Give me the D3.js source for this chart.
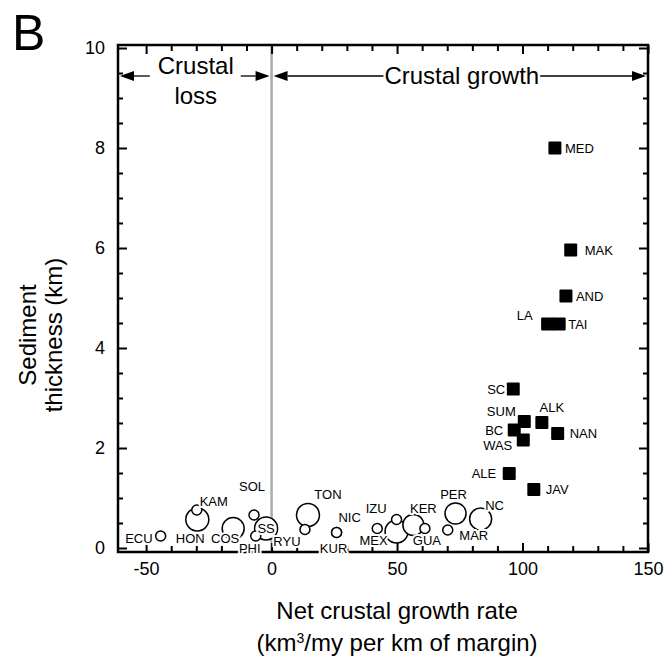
<!DOCTYPE html>
<html>
<head>
<meta charset="utf-8">
<script src="https://cdn.jsdelivr.net/npm/d3@7"></script>
<style>
  body { margin: 0; background: #fff; }
  svg { display: block; font-family: "Liberation Sans", Arial, Helvetica, sans-serif; }
</style>
</head>
<body>
<svg id="chart" width="670" height="666"></svg>
<script>
// Erosive margins (open circles)
const erosiveNames    = ["HON", "COS", "SS", "TON", "MEX", "KER", "PER", "NC",
                         "ECU", "KAM", "SOL", "PHI", "RYU", "NIC", "KUR", "IZU", "", "GUA", "MAR"];
const erosiveGrowth   = [-29.6, -15.3, -2.2, 14.5, 49.8, 56.5, 73.3, 83.3,
                         -44.2, -29.8, -7.0, -6.3, 13.3, 25.9, 25.9, 42.1, 49.8, 61.1, 70.2];
const erosiveSediment = [0.57, 0.39, 0.39, 0.66, 0.33, 0.46, 0.69, 0.58,
                         0.24, 0.76, 0.66, 0.24, 0.37, 0.31, 0.31, 0.39, 0.57, 0.39, 0.36];
const erosiveSize     = [11.5, 11, 11.5, 11.5, 11.5, 10.5, 10.5, 11,
                         5, 5, 5, 5, 5, 5, 5, 5, 5, 5, 5];

// Accretionary margins (filled squares)
const accretNames    = ["MED", "MAK", "AND", "LA", "TAI", "SC", "SUM", "ALK", "BC", "NAN", "WAS", "ALE", "JAV"];
const accretGrowth   = [112.9, 119.2, 117.3, 110.0, 114.6, 96.3, 100.7, 107.7, 96.7, 114.0, 100.3, 94.7, 104.5];
const accretSediment = [8.0, 5.96, 5.04, 4.48, 4.48, 3.18, 2.53, 2.51, 2.36, 2.29, 2.16, 1.49, 1.17];

// Tick values
const xMajorTicks = [-50, 0, 50, 100, 150];
const xMinorTicks = [-40, -30, -20, -10, 10, 20, 30, 40, 60, 70, 80, 90, 110, 120, 130, 140];
const yMajorTicks = [0, 2, 4, 6, 8, 10];
const yMinorTicks = d3.range(0.5, 10, 0.5).filter(v => v % 2 !== 0);

// Label placement next to each symbol: [dx, dy, anchor]
const labelPlacement = {
  ECU: [-8, 2, "end"],   HON: [-7, 19, "middle"], KAM: [17, -9, "middle"], COS: [-8, 10, "middle"],
  SOL: [-2, -29, "middle"], PHI: [-6, 12, "middle"], SS: [0, 0, "middle"], RYU: [-18, 12, "middle"],
  TON: [20, -21, "middle"], NIC: [13, -15, "middle"], KUR: [-3, 16, "middle"], IZU: [-1, -20, "middle"],
  MEX: [-23, 9, "middle"], KER: [10, -17, "middle"], GUA: [2, 12, "middle"], PER: [-2, -19, "middle"],
  MAR: [26, 5, "middle"], NC: [14, -14, "middle"],
  MED: [10, 0, "start"], MAK: [14, 0, "start"], AND: [10, 0, "start"], LA: [-23, -9, "middle"],
  TAI: [9, 0, "start"], SC: [-8, 0, "end"], SUM: [-23, -10, "middle"], ALK: [10, -15, "middle"],
  BC: [-11, 0, "end"], NAN: [12, 0, "start"], WAS: [-11, 5, "end"], ALE: [-13, 0, "end"],
  JAV: [12, 0, "start"]
};

const svg = d3.select("#chart");
const x = d3.scaleLinear().domain([-61.2, 150]).range([118, 648]);
const y = d3.scaleLinear().domain([-0.08, 10.06]).range([552, 45]);
const r = d3.scaleLinear().domain([0, 12]).range([0, 12]);
const [x0, x1] = x.range();
const [y0, y1] = y.range();

// Zero-growth divider
svg.append("line")
  .attr("x1", x(0)).attr("x2", x(0)).attr("y1", y1).attr("y2", y0)
  .attr("stroke", "#ababab").attr("stroke-width", 2.5);

// Inward ticks on all four sides
function tickAxis(axis, values, len, labelled, translate) {
  const g = svg.append("g").attr("transform", translate)
    .call(axis.tickValues(values).tickSize(-len).tickPadding(labelled ? 10 : 0)
      .tickFormat(labelled ? (d => String(d)) : ""));
  g.select(".domain").remove();
  g.selectAll(".tick line").attr("stroke", "#000").attr("stroke-width", 2);
  g.selectAll(".tick text").attr("font-size", 18).attr("fill", "#000")
    .attr("font-family", "Liberation Sans, Arial, Helvetica, sans-serif");
  return g;
}
tickAxis(d3.axisBottom(x), xMajorTicks, 9, true, `translate(0,${y0})`);
tickAxis(d3.axisBottom(x), xMinorTicks, 6, false, `translate(0,${y0})`);
tickAxis(d3.axisTop(x), xMajorTicks, 9, false, `translate(0,${y1})`);
tickAxis(d3.axisTop(x), xMinorTicks, 6, false, `translate(0,${y1})`);
const yLeft = tickAxis(d3.axisLeft(y), yMajorTicks, 9, true, `translate(${x0},0)`);
yLeft.selectAll(".tick text").attr("x", -13);
tickAxis(d3.axisLeft(y), yMinorTicks, 5, false, `translate(${x0},0)`);
tickAxis(d3.axisRight(y), yMajorTicks, 9, false, `translate(${x1},0)`);
tickAxis(d3.axisRight(y), yMinorTicks, 5, false, `translate(${x1},0)`);

// Frame
svg.append("rect")
  .attr("x", x0).attr("y", y1).attr("width", x1 - x0).attr("height", y0 - y1)
  .attr("fill", "none").attr("stroke", "#000").attr("stroke-width", 2.5);

// Erosive margins, large symbols underneath small ones
const erosive = erosiveNames.map((name, i) => ({
  name, gx: erosiveGrowth[i], sed: erosiveSediment[i], size: erosiveSize[i]
}));
svg.append("g").selectAll("circle")
  .data(erosive.slice().sort((a, b) => b.size - a.size))
  .join("circle")
  .attr("cx", d => x(d.gx)).attr("cy", d => y(d.sed)).attr("r", d => r(d.size))
  .attr("fill", "#fff").attr("stroke", "#000").attr("stroke-width", 1.5);

// Accretionary margins
const accret = accretNames.map((name, i) => ({ name, gx: accretGrowth[i], sed: accretSediment[i] }));
const sq = 13;
svg.append("g").selectAll("rect")
  .data(accret)
  .join("rect")
  .attr("x", d => x(d.gx) - sq / 2).attr("y", d => y(d.sed) - sq / 2)
  .attr("width", sq).attr("height", sq).attr("rx", 1)
  .attr("fill", "#000");

// Margin labels with a white knockout halo
const labelled = erosive.concat(accret).filter(d => d.name);
svg.append("g").selectAll("text")
  .data(labelled)
  .join("text")
  .attr("x", d => x(d.gx) + labelPlacement[d.name][0])
  .attr("y", d => y(d.sed) + labelPlacement[d.name][1])
  .attr("text-anchor", d => labelPlacement[d.name][2])
  .attr("dy", "0.36em")
  .attr("font-size", 13)
  .attr("fill", "#000")
  .attr("stroke", "#fff").attr("stroke-width", 4).attr("stroke-linejoin", "round")
  .attr("paint-order", "stroke")
  .text(d => d.name);

// Region annotations with arrows
const arrowY = 76;
function arrowLine(from, to) {
  const dir = Math.sign(to - from);
  const head = 14, half = 5;
  svg.append("line")
    .attr("x1", from).attr("x2", to - dir * head).attr("y1", arrowY).attr("y2", arrowY)
    .attr("stroke", "#000").attr("stroke-width", 1.3);
  svg.append("path")
    .attr("d", `M${to},${arrowY}L${to - dir * head},${arrowY - half}L${to - dir * head},${arrowY + half}Z`)
    .attr("fill", "#000");
}
function regionText(cx, baseline, txt) {
  return svg.append("text").attr("x", cx).attr("y", baseline)
    .attr("text-anchor", "middle").attr("font-size", 24).attr("fill", "#000").text(txt);
}
// Crustal loss (x < 0)
const lossL = x0 + 2, lossR = x(0) - 2, lossC = (lossL + lossR) / 2 + 1;
const lossT = regionText(lossC, 74, "Crustal");
regionText(lossC, 104, "loss");
const lw = lossT.node().getComputedTextLength();
arrowLine(lossC - lw / 2 - 8, lossL);
arrowLine(lossC + lw / 2 + 7, lossR);
// Crustal growth (x > 0)
const grL = x(0) + 2, grR = x1 - 2, grC = (grL + grR) / 2 + 2;
const grT = regionText(grC, 84, "Crustal growth");
const gw = grT.node().getComputedTextLength();
arrowLine(grC - gw / 2 - 1, grL);
arrowLine(grC + gw / 2 + 1, grR);

// Axis titles
const titleX = x(50);
svg.append("text").attr("x", titleX).attr("y", 619).attr("text-anchor", "middle")
  .attr("font-size", 24).attr("fill", "#000").text("Net crustal growth rate");
const xt2 = svg.append("text").attr("x", titleX).attr("y", 651).attr("text-anchor", "middle")
  .attr("font-size", 24).attr("fill", "#000");
xt2.append("tspan").text("(km");
xt2.append("tspan").attr("font-size", 14).attr("dy", -8).text("3");
xt2.append("tspan").attr("dy", 8).text("/my per km of margin)");

const yt = svg.append("g").attr("transform", "translate(0,335) rotate(-90)");
yt.append("text").attr("x", 0).attr("y", 36).attr("text-anchor", "middle")
  .attr("font-size", 24).attr("fill", "#000").text("Sediment");
yt.append("text").attr("x", 0).attr("y", 62).attr("text-anchor", "middle")
  .attr("font-size", 24).attr("fill", "#000").text("thickness (km)");

// Panel letter
svg.append("text").attr("x", 12).attr("y", 50).attr("font-size", 50).attr("fill", "#000").text("B");
</script>
</body>
</html>
